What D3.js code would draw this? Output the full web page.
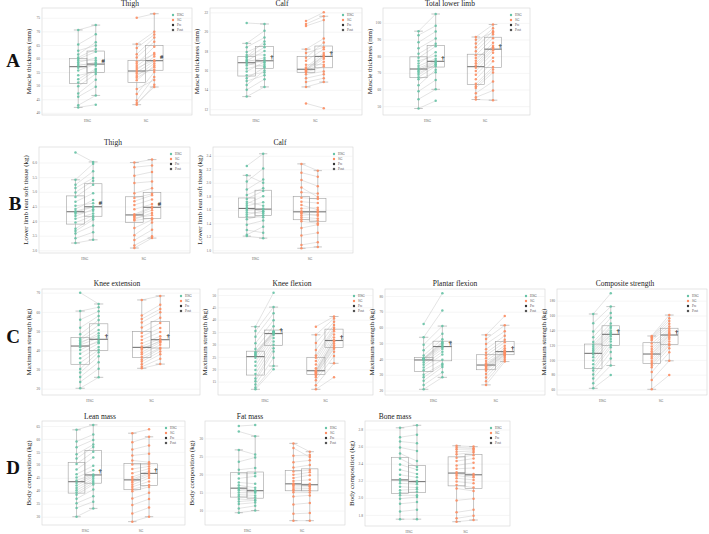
<!DOCTYPE html>
<html lang="en">
<head>
<meta charset="UTF-8">
<title>Pre/Post paired box plots</title>
<style>
  body { margin: 0; background: #fff; }
  text { font-family: 'Liberation Serif', 'DejaVu Serif', serif; }
</style>
</head>
<body>
<div id="chart"></div>
<script src="https://cdn.jsdelivr.net/npm/d3@7"></script>
<script>
const groups = ['HSG', 'SG']
const times = ['Pre', 'Post']
const colorMap = { HSG: '#66c2a5', SG: '#fc8d62' }
const legendLabels = ['HSG', 'SG', 'Pre', 'Post']

// A - muscle thickness
const aThighHsgPre = [42.0, 42.8, 45.9, 47.1, 49.8, 51.2, 52.4, 53.8, 55.6, 56.6, 57.4, 58.0, 58.6, 59.3, 59.8, 60.4, 61.5, 62.9, 65.2, 70.5]
const aThighHsgPost = [43.0, 46.4, 49.6, 52.2, 54.3, 55.8, 56.2, 55.1, 57.9, 58.0, 58.6, 57.3, 60.2, 59.4, 62.5, 63.5, 66.0, 64.8, 68.9, 72.3]
const aThighSgPre = [43.0, 43.6, 44.5, 46.9, 48.8, 52.0, 52.9, 53.6, 54.4, 55.0, 55.8, 56.5, 57.2, 58.1, 58.8, 60.4, 61.6, 63.9, 65.3, 75.0]
const aThighSgPost = [50.3, 49.5, 53.2, 55.0, 52.1, 57.4, 56.8, 58.2, 55.9, 59.0, 60.7, 59.4, 62.0, 64.3, 61.5, 66.2, 67.7, 68.8, 69.9, 76.5]

const aCalfHsgPre = [13.3, 14.0, 14.5, 14.9, 15.2, 15.5, 15.9, 16.2, 16.5, 16.7, 16.9, 17.0, 17.1, 17.3, 17.4, 17.6, 17.9, 18.4, 18.8, 20.9]
const aCalfHsgPost = [14.3, 15.1, 16.0, 15.5, 16.3, 15.8, 16.9, 16.6, 17.1, 16.4, 17.3, 18.0, 16.8, 18.4, 19.0, 17.6, 18.7, 19.4, 20.1, 20.8]
const aCalfSgPre = [12.6, 14.3, 14.8, 15.2, 15.6, 15.85, 15.9, 16.0, 16.05, 16.1, 16.15, 16.3, 16.6, 17.0, 17.3, 17.8, 18.2, 20.6, 20.8, 21.1]
const aCalfSgPost = [12.1, 14.8, 15.2, 15.6, 15.9, 16.4, 16.9, 17.2, 17.4, 17.6, 17.5, 17.8, 16.6, 18.2, 18.9, 18.4, 19.3, 21.2, 21.6, 22.0]

const aTotalHsgPre = [48.6, 54.2, 58.9, 62.5, 66.1, 67.4, 68.8, 69.9, 71.0, 71.8, 72.8, 74.1, 75.6, 77.2, 79.0, 81.4, 84.7, 88.3, 92.6, 95.0]
const aTotalHsgPost = [53.2, 60.1, 65.7, 71.9, 70.3, 74.0, 75.2, 74.8, 76.1, 76.6, 77.2, 78.5, 82.4, 80.3, 85.9, 87.5, 90.6, 94.8, 98.2, 105.3]
const aTotalSgPre = [54.0, 55.3, 57.8, 60.9, 62.0, 63.4, 66.2, 68.9, 71.1, 73.0, 74.4, 75.8, 77.3, 78.9, 80.6, 82.9, 85.4, 87.6, 89.8, 91.5]
const aTotalSgPost = [53.6, 59.4, 64.8, 70.2, 72.0, 73.5, 76.9, 79.1, 82.0, 83.6, 84.8, 86.2, 88.0, 85.4, 90.8, 93.1, 95.0, 96.7, 94.2, 99.0]

// B - lean soft tissue
const bThighHsgPre = [3.25, 3.41, 3.58, 3.66, 3.74, 3.95, 4.08, 4.17, 4.25, 4.30, 4.34, 4.41, 4.52, 4.66, 4.82, 4.98, 5.13, 5.24, 5.41, 6.34]
const bThighHsgPost = [3.36, 3.62, 3.85, 4.05, 4.12, 4.18, 4.26, 4.40, 4.35, 4.48, 4.50, 4.72, 4.61, 4.95, 5.24, 5.38, 5.47, 5.70, 5.96, 6.02]
const bThighSgPre = [3.08, 3.17, 3.35, 3.52, 3.76, 4.02, 4.06, 4.11, 4.16, 4.19, 4.23, 4.40, 4.55, 4.68, 4.79, 4.95, 5.30, 5.55, 5.84, 6.00]
const bThighSgPost = [3.42, 3.48, 3.70, 3.95, 4.05, 4.10, 4.28, 4.20, 4.37, 4.45, 4.49, 4.58, 4.74, 4.88, 4.93, 5.12, 5.35, 5.68, 5.90, 6.10]

const bCalfHsgPre = [1.21, 1.23, 1.30, 1.38, 1.46, 1.50, 1.53, 1.56, 1.59, 1.61, 1.63, 1.66, 1.69, 1.72, 1.76, 1.82, 1.90, 2.02, 2.11, 2.25]
const bCalfHsgPost = [1.18, 1.35, 1.26, 1.44, 1.52, 1.49, 1.58, 1.55, 1.62, 1.60, 1.57, 1.71, 1.80, 1.66, 1.88, 1.92, 2.05, 2.21, 2.00, 2.43]
const bCalfSgPre = [1.03, 1.08, 1.22, 1.33, 1.43, 1.46, 1.49, 1.52, 1.55, 1.56, 1.58, 1.62, 1.67, 1.72, 1.78, 1.86, 1.93, 2.04, 2.15, 2.28]
const bCalfSgPost = [1.05, 1.12, 1.26, 1.38, 1.40, 1.44, 1.47, 1.53, 1.51, 1.58, 1.56, 1.63, 1.60, 1.70, 1.76, 1.84, 1.79, 1.95, 2.09, 2.18]

// C - maximum strength
const cKneeExtHsgPre = [20.2, 23.5, 26.1, 28.4, 30.3, 33.5, 35.8, 38.2, 40.1, 41.6, 42.8, 43.5, 44.3, 45.2, 46.1, 48.3, 51.7, 55.9, 60.4, 70.0]
const cKneeExtHsgPost = [25.9, 30.4, 33.8, 36.9, 39.0, 40.2, 41.7, 43.6, 45.0, 44.2, 46.4, 48.9, 47.5, 50.6, 53.1, 55.8, 57.9, 60.3, 62.4, 64.1]
const cKneeExtSgPre = [30.6, 31.4, 32.7, 34.1, 35.2, 36.5, 37.9, 39.0, 40.3, 41.0, 42.0, 43.6, 45.4, 47.2, 49.0, 51.8, 54.5, 56.3, 58.1, 66.2]
const cKneeExtSgPost = [32.8, 35.6, 37.9, 39.4, 40.8, 41.3, 42.9, 44.1, 45.0, 44.6, 46.0, 47.3, 49.5, 51.6, 54.2, 56.9, 59.8, 61.5, 63.7, 68.3]

const cKneeFlexHsgPre = [11.9, 12.6, 13.8, 15.2, 16.3, 18.1, 19.7, 21.4, 23.0, 24.6, 25.6, 25.9, 26.3, 26.7, 27.0, 28.2, 30.5, 33.1, 35.4, 37.2]
const cKneeFlexHsgPost = [20.0, 21.3, 24.6, 27.2, 28.5, 29.9, 31.2, 32.6, 33.8, 34.2, 34.8, 34.6, 35.0, 35.1, 35.3, 37.4, 39.8, 42.6, 45.1, 50.9]
const cKneeFlexSgPre = [11.9, 13.5, 15.6, 16.8, 17.5, 18.0, 18.4, 18.8, 19.1, 19.3, 19.5, 20.4, 21.9, 23.3, 24.6, 25.5, 27.8, 30.6, 33.9, 37.2]
const cKneeFlexSgPost = [16.8, 22.4, 25.3, 27.1, 28.9, 28.3, 29.6, 30.4, 31.2, 31.5, 31.7, 32.8, 34.0, 35.3, 36.0, 36.8, 37.9, 39.2, 40.5, 41.3]

const cPlantarHsgPre = [20.8, 23.5, 26.2, 28.4, 30.1, 32.9, 34.7, 36.3, 37.8, 39.0, 39.8, 40.0, 40.2, 40.4, 40.5, 42.3, 45.6, 49.1, 53.8, 62.2]
const cPlantarHsgPost = [28.4, 31.6, 34.9, 36.2, 37.0, 39.5, 42.8, 44.6, 46.3, 47.5, 48.3, 49.1, 49.8, 50.4, 50.9, 52.6, 56.0, 60.9, 70.8, 81.7]
const cPlantarSgPre = [23.6, 25.9, 28.3, 30.5, 32.6, 33.4, 34.2, 34.9, 35.5, 36.0, 36.4, 37.3, 38.8, 40.5, 42.3, 44.0, 46.2, 49.5, 52.7, 55.3]
const cPlantarSgPost = [38.4, 39.6, 40.8, 41.9, 42.5, 43.2, 42.8, 43.7, 44.3, 44.6, 44.8, 45.5, 46.9, 48.5, 50.6, 52.3, 54.8, 57.6, 61.4, 67.3]

const cCompHsgPre = [61.5, 68.3, 74.9, 80.2, 85.6, 89.4, 94.1, 99.0, 103.5, 107.2, 110.4, 112.6, 115.1, 117.8, 120.5, 124.0, 130.7, 138.2, 149.6, 162.0]
const cCompHsgPost = [79.5, 92.4, 101.8, 110.6, 116.9, 120.3, 124.7, 128.1, 131.6, 133.9, 135.1, 137.4, 139.8, 143.2, 145.0, 149.3, 156.8, 163.5, 172.0, 190.0]
const cCompSgPre = [60.2, 72.8, 83.5, 89.9, 93.2, 95.8, 98.6, 101.7, 104.3, 106.9, 108.9, 111.5, 114.7, 118.0, 122.1, 126.4, 128.3, 129.9, 131.0, 132.3]
const cCompSgPost = [79.5, 98.7, 110.2, 115.8, 119.6, 121.5, 124.9, 128.2, 130.7, 133.0, 134.2, 136.1, 137.5, 139.8, 142.0, 145.1, 148.9, 152.6, 156.3, 160.6]

// D - body composition
const dLeanHsgPre = [30.0, 33.4, 35.2, 36.9, 38.5, 39.3, 40.2, 41.1, 42.0, 43.0, 44.0, 45.1, 46.4, 48.2, 50.3, 52.4, 54.1, 56.8, 59.0, 63.5]
const dLeanHsgPost = [33.2, 35.8, 37.9, 40.5, 42.4, 43.1, 43.8, 44.6, 45.4, 45.9, 46.3, 47.9, 49.6, 52.8, 55.0, 56.9, 57.8, 59.6, 61.7, 65.4]
const dLeanSgPre = [28.1, 31.2, 34.5, 37.0, 39.8, 40.6, 41.5, 42.3, 43.2, 43.9, 44.5, 45.3, 46.8, 48.4, 50.1, 51.7, 53.6, 55.9, 58.7, 62.2]
const dLeanSgPost = [30.0, 33.5, 36.8, 39.2, 41.5, 42.2, 43.6, 44.9, 45.8, 46.5, 46.9, 47.6, 48.5, 49.4, 50.2, 51.0, 54.3, 57.5, 60.8, 63.7]

const dFatHsgPre = [9.4, 10.6, 11.8, 12.5, 13.2, 13.9, 14.4, 15.0, 15.6, 16.0, 16.4, 17.0, 17.8, 18.9, 20.2, 21.3, 23.5, 26.8, 31.9, 33.4]
const dFatHsgPost = [10.0, 11.3, 12.2, 12.8, 12.9, 13.6, 14.2, 14.9, 15.2, 15.4, 15.6, 16.3, 17.4, 19.5, 20.3, 21.8, 24.7, 25.5, 30.6, 33.7]
const dFatSgPre = [7.2, 9.1, 11.7, 13.9, 15.1, 15.6, 16.0, 16.5, 17.0, 17.3, 17.5, 18.2, 19.0, 19.9, 20.8, 21.9, 23.4, 25.2, 27.3, 28.6]
const dFatSgPost = [7.2, 9.3, 12.1, 14.2, 15.0, 15.6, 16.1, 16.6, 16.9, 17.4, 16.8, 18.5, 19.8, 20.6, 21.2, 22.6, 23.9, 25.4, 24.8, 26.3]

const dBoneHsgPre = [1.75, 1.84, 1.93, 1.99, 2.03, 2.06, 2.09, 2.13, 2.17, 2.20, 2.22, 2.27, 2.33, 2.39, 2.46, 2.52, 2.59, 2.66, 2.71, 2.82]
const dBoneHsgPost = [1.75, 1.86, 1.95, 2.01, 2.03, 2.07, 2.10, 2.12, 2.16, 2.18, 2.20, 2.24, 2.28, 2.33, 2.36, 2.43, 2.55, 2.64, 2.74, 2.85]
const dBoneSgPre = [1.72, 1.76, 1.83, 1.97, 2.11, 2.15, 2.19, 2.23, 2.26, 2.28, 2.30, 2.34, 2.38, 2.43, 2.47, 2.51, 2.54, 2.57, 2.59, 2.61]
const dBoneSgPost = [1.74, 1.79, 1.86, 1.99, 2.08, 2.12, 2.17, 2.21, 2.24, 2.26, 2.28, 2.35, 2.41, 2.46, 2.50, 2.53, 2.55, 2.57, 2.58, 2.60]

const panels = [
  { title: 'Thigh', ylab: 'Muscle thickness (mm)', x0: 42, x1: 192, y0: 8, y1: 115, domain: [39.2, 78.6], ticks: [40, 45, 50, 55, 60, 65, 70, 75], fmt: 'd', mark: '#', tx: 130, ty: 6, data: [aThighHsgPre, aThighHsgPost, aThighSgPre, aThighSgPost] },
  { title: 'Calf', ylab: 'Muscle thickness (mm)', x0: 210, x1: 362, y0: 8, y1: 115, domain: [11.4, 22.45], ticks: [12, 14, 16, 18, 20, 22], fmt: 'd', mark: '†', tx: 282, ty: 6, data: [aCalfHsgPre, aCalfHsgPost, aCalfSgPre, aCalfSgPost] },
  { title: 'Total lower limb', ylab: 'Muscle thickness (mm)', x0: 383, x1: 530, y0: 8, y1: 115, domain: [44.7, 108.9], ticks: [50, 60, 70, 80, 90, 100], fmt: 'd', mark: '†', tx: 450, ty: 6, data: [aTotalHsgPre, aTotalHsgPost, aTotalSgPre, aTotalSgPost] },
  { title: 'Thigh', ylab: 'Lower limb lean soft tissue (kg)', x0: 39, x1: 190, y0: 147, y1: 253, domain: [2.91, 6.53], ticks: [3, 3.5, 4, 4.5, 5, 5.5, 6], fmt: '.1f', mark: '#', tx: 113, ty: 145, data: [bThighHsgPre, bThighHsgPost, bThighSgPre, bThighSgPost] },
  { title: 'Calf', ylab: 'Lower limb lean soft tissue (kg)', x0: 213, x1: 353, y0: 147, y1: 253, domain: [0.96, 2.53], ticks: [1.0, 1.2, 1.4, 1.6, 1.8, 2.0, 2.2, 2.4], fmt: '.1f', mark: '', tx: 280, ty: 145, data: [bCalfHsgPre, bCalfHsgPost, bCalfSgPre, bCalfSgPost] },
  { title: 'Knee extension', ylab: 'Maximum strength (kg)', x0: 42, x1: 200, y0: 289, y1: 395, domain: [16.7, 71.9], ticks: [20, 30, 40, 50, 60, 70], fmt: 'd', mark: '†', tx: 117, ty: 286, data: [cKneeExtHsgPre, cKneeExtHsgPost, cKneeExtSgPre, cKneeExtSgPost] },
  { title: 'Knee flexion', ylab: 'Maximum strength (kg)', x0: 218, x1: 373, y0: 289, y1: 395, domain: [9.6, 52.4], ticks: [15, 20, 25, 30, 35, 40, 45, 50], fmt: 'd', mark: '†', tx: 292, ty: 286, data: [cKneeFlexHsgPre, cKneeFlexHsgPost, cKneeFlexSgPre, cKneeFlexSgPost] },
  { title: 'Plantar flexion', ylab: 'Maximum strength (kg)', x0: 385, x1: 545, y0: 289, y1: 395, domain: [17.2, 84.4], ticks: [20, 30, 40, 50, 60, 70, 80], fmt: 'd', mark: '†', tx: 455, ty: 286, data: [cPlantarHsgPre, cPlantarHsgPost, cPlantarSgPre, cPlantarSgPost] },
  { title: 'Composite strength', ylab: 'Maximum strength (kg)', x0: 557, x1: 707, y0: 289, y1: 395, domain: [52.5, 195.8], ticks: [60, 80, 100, 120, 140, 160, 180], fmt: 'd', mark: '†', tx: 625, ty: 286, data: [cCompHsgPre, cCompHsgPost, cCompSgPre, cCompSgPost] },
  { title: 'Lean mass', ylab: 'Body composition (kg)', x0: 42, x1: 185, y0: 421, y1: 525, domain: [26.8, 66.9], ticks: [30, 35, 40, 45, 50, 55, 60, 65], fmt: 'd', mark: '†', tx: 100, ty: 419, data: [dLeanHsgPre, dLeanHsgPost, dLeanSgPre, dLeanSgPost] },
  { title: 'Fat mass', ylab: 'Body composition (kg)', x0: 205, x1: 345, y0: 421, y1: 525, domain: [6.0, 34.8], ticks: [10, 15, 20, 25, 30], fmt: 'd', mark: '', tx: 250, ty: 419, data: [dFatHsgPre, dFatHsgPost, dFatSgPre, dFatSgPost] },
  { title: 'Bone mass', ylab: 'Body composition (kg)', x0: 365, x1: 510, y0: 421, y1: 526, domain: [1.67, 2.9], ticks: [1.8, 2.0, 2.2, 2.4, 2.6, 2.8], fmt: '.1f', mark: '', tx: 395, ty: 419, data: [dBoneHsgPre, dBoneHsgPost, dBoneSgPre, dBoneSgPost] }
]

const letters = [['A', 13, 67], ['B', 15, 210], ['C', 13, 343], ['D', 13, 474]]

const width = 709
const height = 534
const svg = d3.select('#chart').append('svg').attr('width', width).attr('height', height)

// box stats, whiskers within 1.5 IQR
function boxStats (arr) {
  const s = arr.slice().sort(d3.ascending)
  const q1 = d3.quantile(s, 0.25)
  const med = d3.quantile(s, 0.5)
  const q3 = d3.quantile(s, 0.75)
  const iqr = q3 - q1
  const lo = d3.min(s.filter(v => v >= q1 - 1.5 * iqr))
  const hi = d3.max(s.filter(v => v <= q3 + 1.5 * iqr))
  return { q1, med, q3, lo, hi }
}

function drawPanel (p) {
  const g = svg.append('g')
  const w = p.x1 - p.x0
  const y = d3.scaleLinear().domain(p.domain).range([p.y1, p.y0])
  const x = d3.scalePoint().domain(groups).range([p.x0 + w * 0.3, p.x0 + w * 0.69])
  const gap = x.step()
  const dodge = d3.scaleBand().domain(times).range([-0.3 * gap, 0.3 * gap])
  const bw = dodge.bandwidth()

  // frame
  g.append('rect')
    .attr('x', p.x0).attr('y', p.y0).attr('width', w).attr('height', p.y1 - p.y0)
    .attr('fill', '#fff').attr('stroke', '#d4d4d4').attr('stroke-width', 0.6)

  // y axis + grid
  const ya = g.append('g').attr('transform', 'translate(' + p.x0 + ',0)')
    .call(d3.axisLeft(y).tickValues(p.ticks).tickSize(-w).tickPadding(2).tickFormat(d3.format(p.fmt)))
  ya.select('.domain').remove()
  ya.selectAll('line').attr('stroke', '#ebebeb').attr('stroke-width', 0.5)
  ya.attr('font-family', null).attr('font-size', 3.6)
  ya.selectAll('text').attr('fill', '#666')

  // x axis
  const xa = g.append('g').attr('transform', 'translate(0,' + p.y1 + ')')
    .call(d3.axisBottom(x).tickSize(0).tickPadding(4))
  xa.select('.domain').remove()
  xa.attr('font-family', null).attr('font-size', 3.6)
  xa.selectAll('text').attr('fill', '#666')

  groups.forEach((grp, gi) => {
    const pre = p.data[gi * 2]
    const post = p.data[gi * 2 + 1]
    const cx = t => x(grp) + dodge(t) + bw / 2
    const col = colorMap[grp]

    // paired lines
    g.append('g').selectAll('line').data(pre).join('line')
      .attr('x1', cx('Pre')).attr('x2', cx('Post'))
      .attr('y1', d => y(d)).attr('y2', (d, i) => y(post[i]))
      .attr('stroke', '#c8c8c8').attr('stroke-width', 0.5)

    ;[pre, post].forEach((arr, ti) => {
      const t = times[ti]
      const st = boxStats(arr)
      const c = cx(t)
      const bg = g.append('g').attr('stroke', '#a0a0a0').attr('stroke-width', 0.6).attr('fill', 'none')
      bg.append('line').attr('x1', c).attr('x2', c).attr('y1', y(st.q3)).attr('y2', y(st.hi))
      bg.append('line').attr('x1', c).attr('x2', c).attr('y1', y(st.q1)).attr('y2', y(st.lo))
      bg.append('line').attr('x1', c - bw / 4).attr('x2', c + bw / 4).attr('y1', y(st.hi)).attr('y2', y(st.hi))
      bg.append('line').attr('x1', c - bw / 4).attr('x2', c + bw / 4).attr('y1', y(st.lo)).attr('y2', y(st.lo))
      bg.append('rect').attr('x', c - bw / 2).attr('width', bw)
        .attr('y', y(st.q3)).attr('height', y(st.q1) - y(st.q3))
      bg.append('line').attr('x1', c - bw / 2).attr('x2', c + bw / 2)
        .attr('y1', y(st.med)).attr('y2', y(st.med))
        .attr('stroke', '#777').attr('stroke-width', 1.1)

      g.append('g').selectAll('circle').data(arr).join('circle')
        .attr('cx', c).attr('cy', d => y(d)).attr('r', 1.25)
        .attr('fill', col).attr('fill-opacity', 0.9)

      if (t === 'Post' && p.mark) {
        g.append('text').text(p.mark)
          .attr('x', c + bw / 2 - 1.5).attr('y', y(st.med) - 1.5)
          .attr('text-anchor', 'middle').attr('font-size', 6.5).attr('font-weight', 700)
          .attr('fill', '#222')
      }
    })
  })

  // legend
  const lg = g.append('g').attr('transform', 'translate(' + (p.x1 - 19) + ',' + (p.y0 + 7) + ')')
  legendLabels.forEach((lab, i) => {
    const row = lg.append('g').attr('transform', 'translate(0,' + (i * 5) + ')')
    const fill = i === 0 ? colorMap.HSG : i === 1 ? colorMap.SG : i === 2 ? '#333' : '#555'
    if (i === 3) {
      row.append('rect').attr('x', -1.1).attr('y', -1.1).attr('width', 2.2).attr('height', 2.2).attr('fill', fill)
    } else {
      row.append('circle').attr('r', 1.2).attr('fill', fill)
    }
    row.append('text').text(lab).attr('x', 4).attr('y', 1.2).attr('font-size', 3.4).attr('fill', '#555')
  })

  // title and y label
  g.append('text').text(p.title).attr('x', p.tx).attr('y', p.ty)
    .attr('text-anchor', 'middle').attr('font-size', 7.5).attr('fill', '#222')
  g.append('text').text(p.ylab)
    .attr('transform', 'translate(' + (p.x0 - 11) + ',' + ((p.y0 + p.y1) / 2) + ') rotate(-90)')
    .attr('text-anchor', 'middle').attr('font-size', 7).attr('fill', '#222')
}

panels.forEach(drawPanel)

svg.selectAll('.panel-letter').data(letters).join('text')
  .attr('class', 'panel-letter')
  .attr('x', d => d[1]).attr('y', d => d[2])
  .attr('text-anchor', 'middle').attr('font-size', 19).attr('font-weight', 700)
  .attr('fill', '#111')
  .text(d => d[0])
</script>
